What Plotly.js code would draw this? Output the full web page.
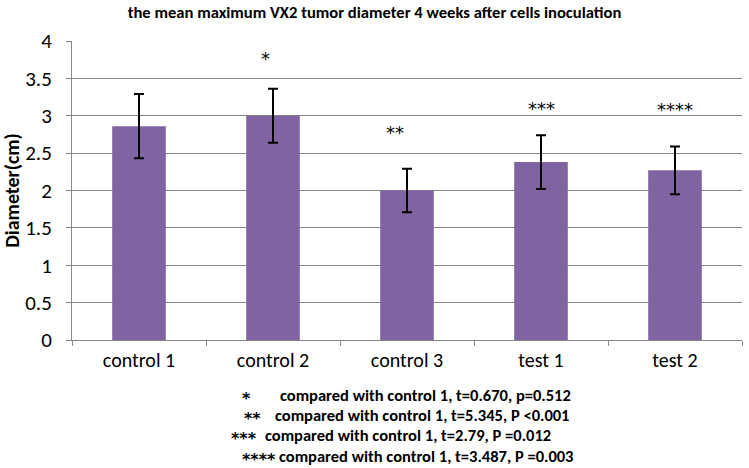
<!DOCTYPE html>
<html><head><meta charset="utf-8">
<script src="https://cdn.plot.ly/plotly-3.0.1.min.js"></script>
<style>body{margin:0;background:#fff}</style>
</head><body><div id="chart" style="width:749px;height:468px"></div>
<script>
const categories = ["control 1","control 2","control 3","test 1","test 2"];
const meanDiameter = [2.86, 3.00, 2.00, 2.38, 2.27];
const errorSize = [0.43, 0.36, 0.29, 0.36, 0.32];
const starLabels = ["", "*", "**", "***", "****"];
const starY = [null, 3.81, 2.82, 3.14, 3.12];
const footnoteMarks = ["*", "**", "***", "****"];
const footnoteTexts = [
  "compared with control 1, t=0.670, p=0.512",
  "compared with control 1, t=5.345, P <0.001",
  "compared with control 1, t=2.79, P =0.012",
  "compared with control 1, t=3.487, P =0.003"
];
const FONT = "Carlito, Calibri, Lato, 'Open Sans', sans-serif";
const STARFONT = "'DejaVu Sans', sans-serif";

const L=72, R=742, T=41, B=340;
const px = x => (x - L) / (R - L);
const py = y => (B - y) / (B - T);

const starShift = [0, -8, -12, 0, 0];
const annotations = [];
categories.forEach((c,i)=>{
  if (starLabels[i]) annotations.push({x:c, y:starY[i], xref:'x', yref:'y', xshift:starShift[i], yshift:-3, text:starLabels[i], showarrow:false, font:{family:STARFONT,size:18,color:'#000'}});
});
const markRight = [253, 263, 259, 278];
const textX = [278, 273, 263, 277];
const lineY = [395, 415, 435, 456];
footnoteMarks.forEach((m,i)=>{
  annotations.push({x:px(markRight[i]), y:py(lineY[i]), yshift:-3, xref:'paper', yref:'paper', xanchor:'right', yanchor:'middle', text:'<b>'+m+'</b>', showarrow:false, font:{family:STARFONT,size:16,color:'#000'}});
  annotations.push({x:px(textX[i]), y:py(lineY[i]), xref:'paper', yref:'paper', xanchor:'left', yanchor:'middle', text:'<b>'+footnoteTexts[i]+'</b>', showarrow:false, font:{family:FONT,size:16.5,color:'#000'}});
});

const trace = {
  type:'bar', x:categories, y:meanDiameter,
  marker:{color:'#8064A2'},
  width:0.40,
  error_y:{type:'data', array:errorSize, visible:true, color:'#000', thickness:2, width:5}
};

const layout = {
  width:749, height:468,
  margin:{l:L, r:749-R, t:T, b:468-B, pad:0},
  paper_bgcolor:'#fff', plot_bgcolor:'#fff',
  font:{family:FONT, color:'#000'},
  title:{text:'<b>the mean maximum VX2 tumor diameter 4 weeks after cells inoculation</b>', font:{family:FONT,size:16.6,color:'#000'}, xref:'container', x:0.5, xanchor:'center', yref:'container', y:1-12/468, yanchor:'middle'},
  showlegend:false,
  xaxis:{type:'category', showgrid:false, showline:true, linecolor:'#868686', linewidth:1, ticks:'outside', tickson:'boundaries', ticklen:5, tickcolor:'#868686', tickfont:{family:FONT,size:20,color:'#000'}, ticklabelstandoff:2},
  yaxis:{range:[0,4], dtick:0.5, tick0:0, showgrid:true, gridcolor:'#868686', gridwidth:1, showline:true, linecolor:'#868686', linewidth:1, zeroline:false, ticks:'outside', ticklen:5, tickcolor:'#868686', tickfont:{family:FONT,size:21,color:'#000'}, ticklabelstandoff:10,
    title:{text:'<b>Diameter(cm)</b>', font:{family:FONT,size:20,color:'#000'}, standoff:8}},
  annotations:annotations
};
Plotly.newPlot('chart',[trace],layout,{displayModeBar:false,staticPlot:true});
</script></body></html>
